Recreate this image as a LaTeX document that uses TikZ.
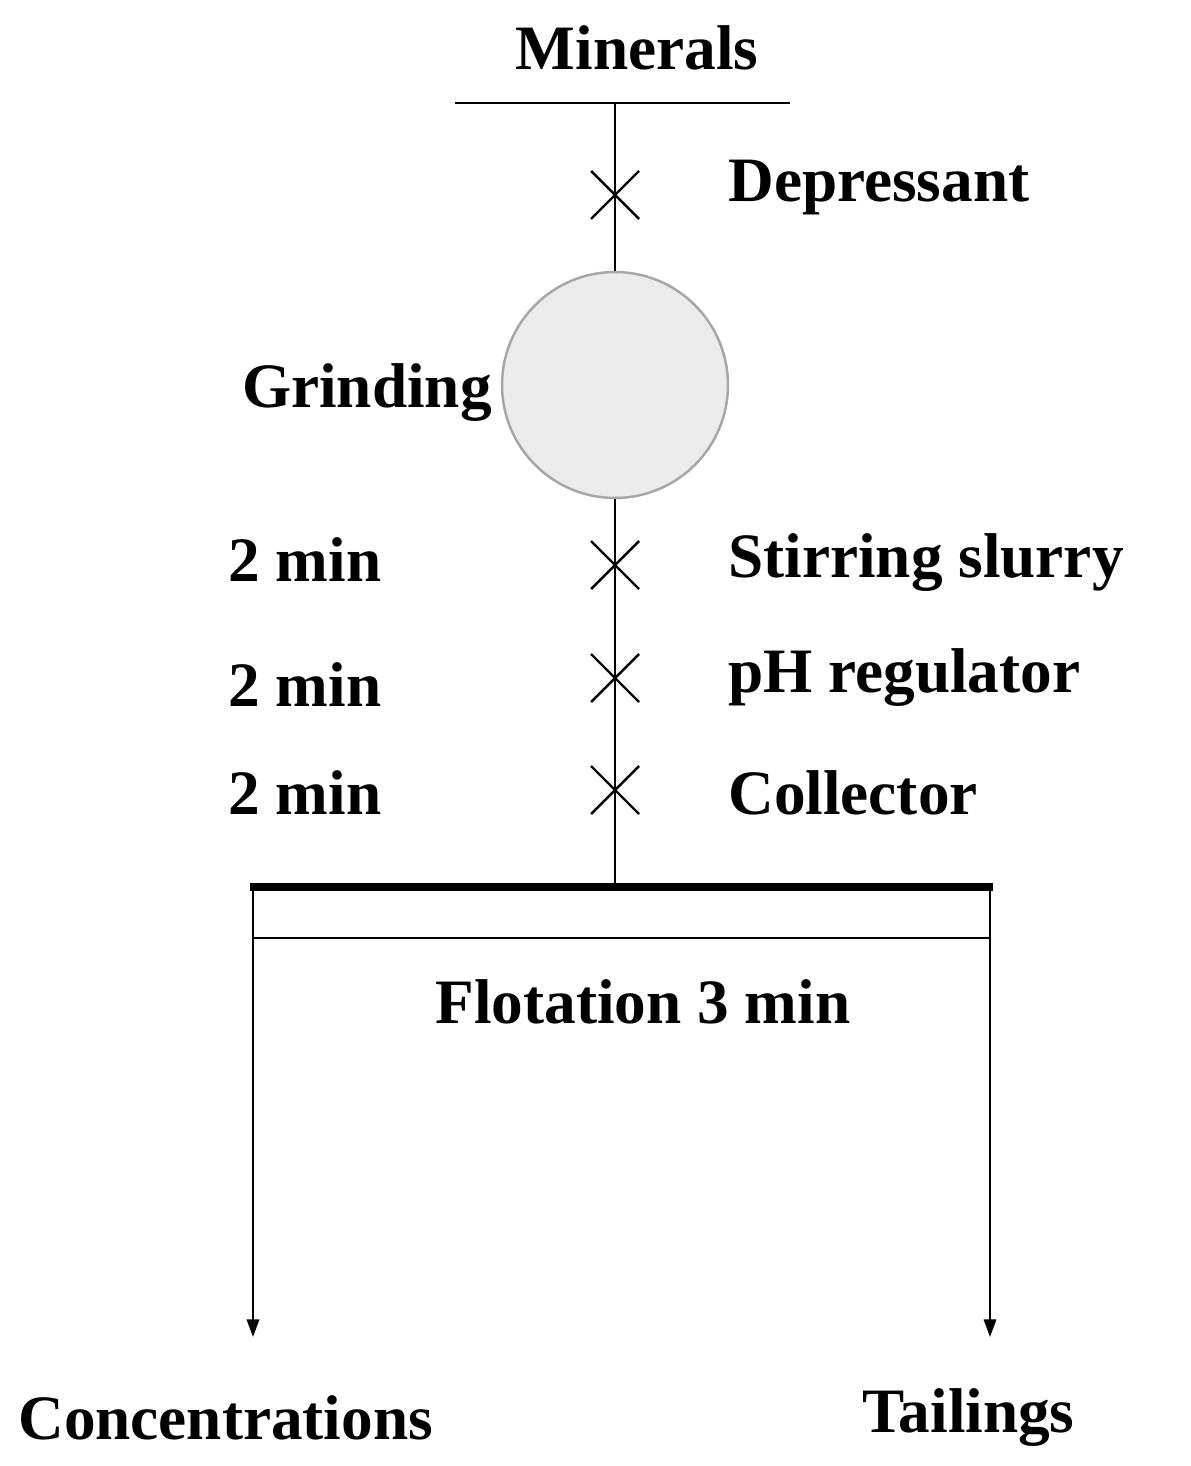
\documentclass[tikz,border=0pt]{standalone}
\usepackage{fontspec}
\setmainfont{Liberation Serif}
\usetikzlibrary{arrows.meta,calc}
\begin{document}
\begin{tikzpicture}[
  x=0.02cm, y=-0.02cm,
  lbl/.style={font=\fontsize{36}{40}\selectfont\bfseries, inner sep=0pt},
  flow/.style={line width=1.6pt},
  cross/.style={line width=1.4pt},
  product/.style={-{Triangle[length=10pt,width=7pt]}, line width=1.4pt}
]
\useasboundingbox (0,0) rectangle (1190,1466);

% Feed
\node[lbl] (minerals) at (637,48) {Minerals};
\coordinate (feedL) at (455,103);
\coordinate (feedR) at (790,103);
\coordinate (feed) at (615,103);
\draw[flow] (feedL) -- (feedR);

% Grinding mill
\node[circle, draw=black!35, fill=black!8, line width=1.4pt, inner sep=0pt, minimum size=4.52cm] (mill) at (615,385) {};
\node[lbl, anchor=east] (grinding) at (492,393) {Grinding};
\draw[flow] (feed) -- (mill.north);

% Reagent additions
\coordinate (dep) at (615,195);
\coordinate (stir) at (615,565);
\coordinate (ph) at (615,678);
\coordinate (coll) at (615,790);
\coordinate (cell) at (615,887);
\draw[flow] (mill.south) -- (cell);
\foreach \p in {dep,stir,ph,coll}
  \draw[cross] ($(\p)+(-24,-24)$) -- ($(\p)+(24,24)$) ($(\p)+(-24,24)$) -- ($(\p)+(24,-24)$);

\node[lbl, anchor=west] (depressant) at (728,188) {Depressant};
\node[lbl, anchor=west] (stirring) at (728,563) {Stirring slurry};
\node[lbl, anchor=west] (regulator) at (728,678) {pH regulator};
\node[lbl, anchor=west] (collector) at (728,793) {Collector};
\node[lbl, anchor=west] (t1) at (228,560) {2 min};
\node[lbl, anchor=west] (t2) at (228,685) {2 min};
\node[lbl, anchor=west] (t3) at (228,793) {2 min};

% Flotation cell
\coordinate (cellTL) at (250,887);
\coordinate (cellTR) at (993,887);
\coordinate (cellBL) at (253,938);
\coordinate (cellBR) at (990,938);
\draw[line width=4pt] (cellTL) -- (cellTR);
\draw[flow] (cellBL) -- (cellBR);
\node[lbl] (flotation) at (643,1002) {Flotation 3 min};

% Products
\node[lbl, anchor=west] (conc) at (18,1418) {Concentrations};
\node[lbl, anchor=west] (tail) at (862,1418) {Tailings};
\coordinate (concOut) at (253,887);
\coordinate (tailOut) at (990,887);
\coordinate (concIn) at (253,1337);
\coordinate (tailIn) at (990,1337);
\draw[product] (concOut) -- (concIn);
\draw[product] (tailOut) -- (tailIn);
\end{tikzpicture}
\end{document}
